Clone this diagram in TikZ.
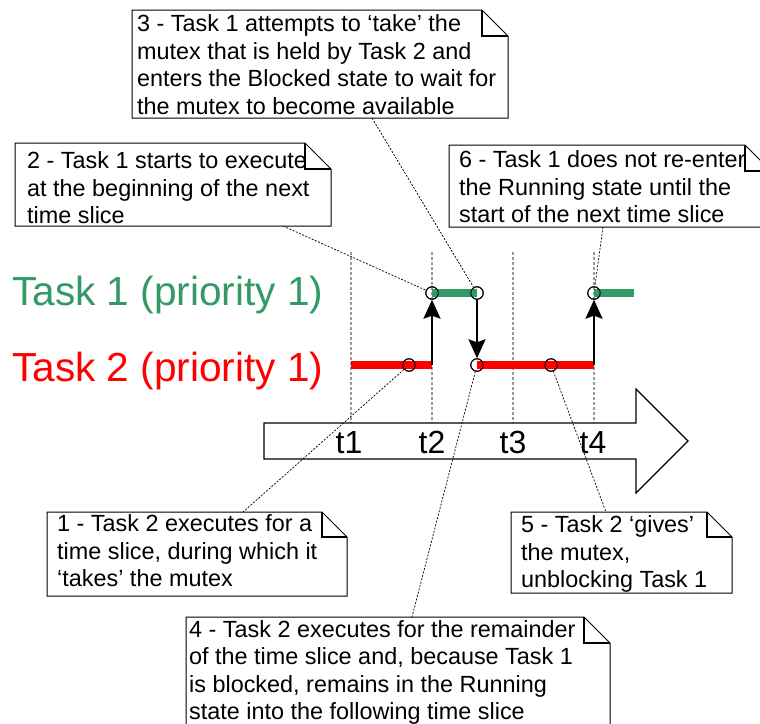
\documentclass[tikz,border=0pt]{standalone}
\usepackage{fontspec}
\setmainfont{Liberation Sans}
\usetikzlibrary{arrows.meta}
\definecolor{taskgreen}{RGB}{51,153,102}
\definecolor{taskred}{RGB}{255,0,0}
\begin{document}
\begin{tikzpicture}[x=1pt,y=-1pt,
  slice/.style={gray!80,line width=1.5pt,dash pattern=on 3pt off 2pt},
  run/.style={line width=8pt},
  switch/.style={line width=2pt,-{Stealth[length=19pt,width=17pt,inset=3pt]}},
  dot/.style={circle,draw,line width=0.9pt,minimum size=12.5pt,inner sep=0pt},
  leader/.style={line width=0.7pt,dash pattern=on 2pt off 1.5pt},
  note/.style={draw=black,line width=1pt,fill=white},
  fold/.style={line width=1.6pt},
  notetext/.style={anchor=north west,align=left,inner sep=0pt,font=\fontsize{23.4}{27.5}\selectfont},
  tick/.style={anchor=base,inner sep=0pt,font=\fontsize{32}{36}\selectfont},
  task/.style={anchor=base west,inner sep=0pt,font=\fontsize{40.6}{44}\selectfont}]
  \useasboundingbox (0,0) rectangle (760,723);
  % time slice boundaries
  \draw[slice] (351,252) -- (351,423);
  \draw[slice] (432,252) -- (432,423);
  \draw[slice] (513,252) -- (513,423);
  \draw[slice] (594,252) -- (594,423);
  % time axis
  \draw[line width=1.1pt,fill=white] (264,423) -- (636,423) -- (636,389) -- (688,441) -- (636,493) -- (636,459) -- (264,459) -- cycle;
  \node[tick] (t1) at (349,453) {t1};
  \node[tick] (t2) at (432,453) {t2};
  \node[tick] (t3) at (513,453) {t3};
  \node[tick] (t4) at (593,453) {t4};
  % task rows
  \node[task,text=taskgreen] (task1) at (12,305) {Task 1 (priority 1)};
  \node[task,text=taskred] (task2) at (12,381) {Task 2 (priority 1)};
  \coordinate (a1) at (351,365);
  \coordinate (a2) at (432,365);
  \coordinate (a4) at (594,365);
  \coordinate (b5) at (634,293);
  \node[dot] (c1) at (409,365) {};
  \node[dot] (c2) at (432,293) {};
  \node[dot] (c3) at (477,293) {};
  \node[dot] (c4) at (477,365) {};
  \node[dot] (c5) at (551,365) {};
  \node[dot] (c6) at (594,293) {};
  \draw[run,taskred] (a1) -- (a2);
  \draw[run,taskred] (c4.center) -- (a4);
  \draw[run,taskgreen] (c2.center) -- (c3.center);
  \draw[run,taskgreen] (c6.center) -- (b5);
  \node[dot] at (c1) {};
  \node[dot] at (c2) {};
  \node[dot] at (c3) {};
  \node[dot] at (c4) {};
  \node[dot] at (c5) {};
  \node[dot] at (c6) {};
  \draw[switch] (a2) -- (c2);
  \draw[switch] (c3) -- (c4);
  \draw[switch] (a4) -- (c6);
  % leaders
  \coordinate (l1) at (243,512);
  \coordinate (l2) at (283,226);
  \coordinate (l3) at (372,118);
  \coordinate (l4) at (412,617);
  \coordinate (l5) at (606,512);
  \coordinate (l6) at (603,227);
  \draw[leader] (c1) -- (l1);
  \draw[leader] (l2) -- (c2);
  \draw[leader] (l3) -- (c3);
  \draw[leader] (c4) -- (l4);
  \draw[leader] (c5) -- (l5);
  \draw[leader] (l6) -- (c6);
  % notes
  \draw[note] (47,512) -- (322,512) -- (347,537) -- (347,596) -- (47,596) -- cycle;
  \draw[fold] (322,512) -- (322,537) -- (347,537);
  \node[notetext] (n1) at (57,514.5) {1 - Task 2 executes for a\\time slice, during which it\\‘takes’ the mutex};
  \draw[note] (15,143) -- (305,143) -- (331,169) -- (331,226) -- (15,226) -- cycle;
  \draw[fold] (305,143) -- (305,169) -- (331,169);
  \node[notetext] (n2) at (27,151.5) {2 - Task 1 starts to execute\\at the beginning of the next\\time slice};
  \draw[note] (132,10) -- (482,10) -- (508,36) -- (508,118) -- (132,118) -- cycle;
  \draw[fold] (482,10) -- (482,36) -- (508,36);
  \node[notetext] (n3) at (137,14.5) {3 - Task 1 attempts to ‘take’ the\\mutex that is held by Task 2 and\\enters the Blocked state to wait for\\the mutex to become available};
  \draw[note] (186,617) -- (584,617) -- (610,643) -- (610,740) -- (186,740) -- cycle;
  \draw[fold] (584,617) -- (584,643) -- (610,643);
  \node[notetext] (n4) at (189,620) {4 - Task 2 executes for the remainder\\of the time slice and, because Task 1\\is blocked, remains in the Running\\state into the following time slice};
  \draw[note] (511,512) -- (707,512) -- (732,537) -- (732,593) -- (511,593) -- cycle;
  \draw[fold] (707,512) -- (707,537) -- (732,537);
  \node[notetext] (n5) at (521,515.5) {5 - Task 2 ‘gives’\\the mutex,\\unblocking Task 1};
  \draw[note] (449,145) -- (745,145) -- (771,171) -- (771,227) -- (449,227) -- cycle;
  \draw[fold] (745,145) -- (745,171) -- (771,171);
  \node[notetext] (n6) at (459,150.5) {6 - Task 1 does not re-enter\\the Running state until the\\start of the next time slice};
\end{tikzpicture}
\end{document}
